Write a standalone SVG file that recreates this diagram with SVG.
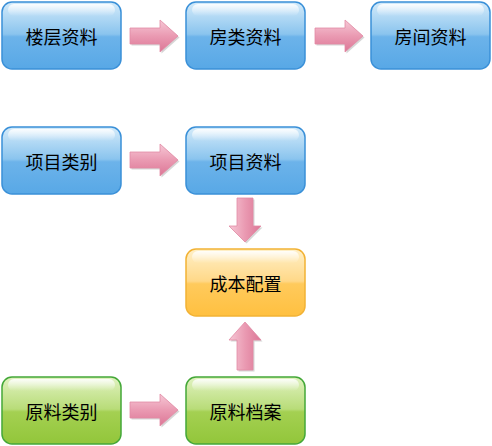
<svg xmlns="http://www.w3.org/2000/svg" width="492" height="446" viewBox="0 0 492 446">
<defs>
<linearGradient id="gb" x1="0" y1="0" x2="0" y2="1">
<stop offset="0" stop-color="#d4ebfa"/><stop offset="0.48" stop-color="#8ac4ee"/><stop offset="0.52" stop-color="#6cb3ea"/><stop offset="1" stop-color="#58a8e6"/>
</linearGradient>
<linearGradient id="gg" x1="0" y1="0" x2="0" y2="1">
<stop offset="0" stop-color="#e0f2c0"/><stop offset="0.48" stop-color="#b8dc78"/><stop offset="0.52" stop-color="#a4d052"/><stop offset="1" stop-color="#92c63a"/>
</linearGradient>
<linearGradient id="go" x1="0" y1="0" x2="0" y2="1">
<stop offset="0" stop-color="#fff0c8"/><stop offset="0.48" stop-color="#ffd888"/><stop offset="0.52" stop-color="#ffca5c"/><stop offset="1" stop-color="#ffc040"/>
</linearGradient>
<linearGradient id="gl" x1="0" y1="0" x2="0" y2="1">
<stop offset="0" stop-color="#ffffff" stop-opacity="0.9"/><stop offset="1" stop-color="#ffffff" stop-opacity="0"/>
</linearGradient>
<linearGradient id="ah" x1="0" y1="0" x2="0" y2="1">
<stop offset="0" stop-color="#f6c8d6"/><stop offset="0.5" stop-color="#ea9ab2"/><stop offset="1" stop-color="#dc7696"/>
</linearGradient>
<linearGradient id="av" x1="0" y1="0" x2="1" y2="0">
<stop offset="0" stop-color="#f6c8d6"/><stop offset="0.5" stop-color="#ea9ab2"/><stop offset="1" stop-color="#dc7696"/>
</linearGradient>
<g id="ar">
<path d="M0,8 H30 V0 L48,16 L30,32 V24 H0 Z" fill="#bbb" opacity="0.6" transform="translate(1.5,1.5)"/>
<path d="M0,8 H30 V0 L48,16 L30,32 V24 H0 Z" fill="url(#ah)" stroke="#e28aa4" stroke-width="0.8"/>
</g>
</defs>
<style>
text{font-family:"Noto Sans CJK SC","Liberation Sans",sans-serif;font-size:18px;font-weight:400;fill:#000;text-anchor:middle;dominant-baseline:central}
.b{fill:url(#gb);stroke:#3a90d8;stroke-width:1.5}
.g{fill:url(#gg);stroke:#44a838;stroke-width:1.5}
.o{fill:url(#go);stroke:#f2b234;stroke-width:1.5}
.hl{fill:url(#gl)}
</style>
<g id="connectors">
<use href="#ar" x="130" y="20"/>
<use href="#ar" x="315" y="20"/>
<use href="#ar" x="130" y="144"/>
<use href="#ar" x="130" y="394"/>
<g transform="translate(229,198)"><path d="M8,0 H24 V28 H32 L16,44 L0,28 H8 Z" fill="#bbb" opacity="0.6" transform="translate(1.5,1.5)"/><path d="M8,0 H24 V28 H32 L16,44 L0,28 H8 Z" fill="url(#av)" stroke="#e28aa4" stroke-width="0.8"/></g>
<g transform="translate(229,322)"><path d="M8,48 H24 V18 H32 L16,0 L0,18 H8 Z" fill="#bbb" opacity="0.6" transform="translate(1.5,1.5)"/><path d="M8,48 H24 V18 H32 L16,0 L0,18 H8 Z" fill="url(#av)" stroke="#e28aa4" stroke-width="0.8"/></g>
</g>
<g id="n1"><rect class="b" x="2" y="2" width="119" height="67" rx="10"/><rect class="hl" x="8" y="4" width="107" height="12" rx="6"/><text x="61.5" y="36">楼层资料</text></g>
<g id="n2"><rect class="b" x="186" y="2" width="119" height="67" rx="10"/><rect class="hl" x="192" y="4" width="107" height="12" rx="6"/><text x="245.5" y="36">房类资料</text></g>
<g id="n3"><rect class="b" x="371" y="2" width="119" height="67" rx="10"/><rect class="hl" x="377" y="4" width="107" height="12" rx="6"/><text x="430.5" y="36">房间资料</text></g>
<g id="n4"><rect class="b" x="2" y="127" width="119" height="67" rx="10"/><rect class="hl" x="8" y="129" width="107" height="12" rx="6"/><text x="61.5" y="161">项目类别</text></g>
<g id="n5"><rect class="b" x="186" y="127" width="119" height="67" rx="10"/><rect class="hl" x="192" y="129" width="107" height="12" rx="6"/><text x="245.5" y="161">项目资料</text></g>
<g id="n6"><rect class="o" x="186" y="249" width="119" height="67" rx="10"/><rect class="hl" x="192" y="251" width="107" height="12" rx="6"/><text x="245.5" y="283">成本配置</text></g>
<g id="n7"><rect class="g" x="2" y="377" width="119" height="67" rx="10"/><rect class="hl" x="8" y="379" width="107" height="12" rx="6"/><text x="61.5" y="411">原料类别</text></g>
<g id="n8"><rect class="g" x="186" y="377" width="119" height="67" rx="10"/><rect class="hl" x="192" y="379" width="107" height="12" rx="6"/><text x="245.5" y="411">原料档案</text></g>
</svg>
